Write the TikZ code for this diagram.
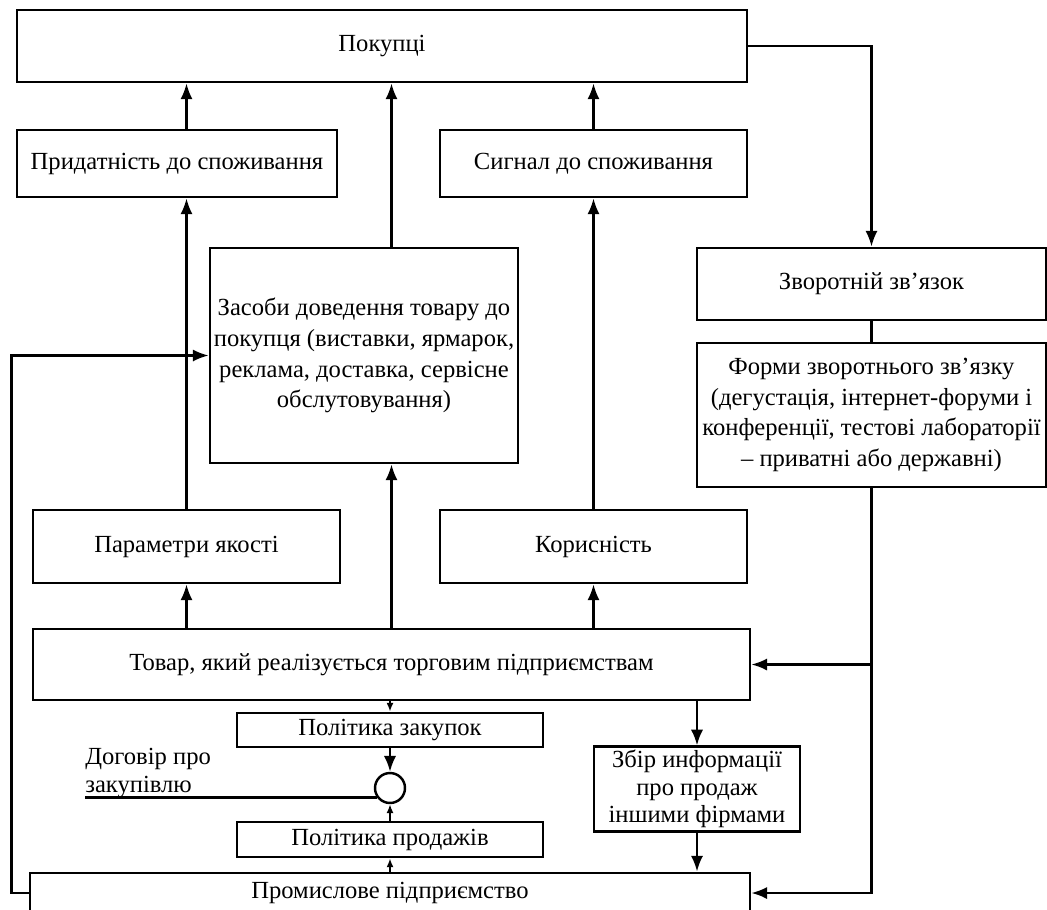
\documentclass[tikz,border=0pt]{standalone}
\usepackage{fontspec}
\setmainfont{Liberation Serif}
\usepackage{tikz}
\usetikzlibrary{arrows.meta}
\usetikzlibrary{positioning}
\tikzset{
	box/.style={draw=black, line width=1.6pt, align=center, inner sep=2pt,
		font=\fontsize{14}{17.5}\selectfont},
	link/.style={draw=black, line width=1.4pt, -{Latex[length=9pt,width=7pt]}},
	smalllink/.style={draw=black, line width=1.1pt, -{Latex[length=5pt,width=4pt]}},
	plain/.style={draw=black, line width=1.4pt},
}

\begin{document}
\begin{tikzpicture}[x=0.02cm, y=-0.02cm]
	\useasboundingbox (0,0) rectangle (1047,909);
	% top row
	\node[box, minimum width=14.6cm, minimum height=1.44cm] (pok) at (382,46) {Покупці};
	\node[box, minimum width=6.4cm, minimum height=1.34cm] (prid) at (177,163.5) {Придатність до споживання};
	\node[box, minimum width=6.14cm, minimum height=1.34cm] (sig) at (593.5,163.5) {Сигнал до споживання};
	\node[box, minimum width=6.16cm, minimum height=4.3cm] (zas) at (364,355.5)
		{Засоби доведення товару до\\покупця (виставки, ярмарок,\\реклама, доставка, сервісне\\обслутовування)};
	% feedback column
	\node[box, minimum width=6.98cm, minimum height=1.44cm] (zvor) at (871.5,284) {Зворотній зв’язок};
	\node[box, minimum width=6.98cm, minimum height=2.88cm, inner sep=1pt] (form) at (871.5,415)
		{Форми зворотнього зв’язку\\(дегустація, інтернет-форуми і\\конференції, тестові лабораторії\\– приватні або державні)};
	% middle row
	\node[box, minimum width=6.14cm, minimum height=1.46cm] (par) at (186.5,546.5) {Параметри якості};
	\node[box, minimum width=6.14cm, minimum height=1.46cm] (kor) at (593.5,546.5) {Корисність};
	\node[box, minimum width=14.34cm, minimum height=1.42cm] (tov) at (391.5,664.5) {Товар, який реалізується торговим підприємствам};
	% bottom
	\node[box, minimum width=6.12cm, minimum height=0.68cm] (zak) at (390,730) {Політика закупок};
	\node[draw=black, line width=1.4pt, circle, minimum size=0.6cm, inner sep=0pt] (circ) at (390,788) {};
	\node[box, minimum width=6.12cm, minimum height=0.7cm] (prod) at (390,839.5) {Політика продажів};
	\node[box, minimum width=14.4cm, minimum height=0.8cm] (prom) at (390,893) {Промислове підприємство};
	\node[box, minimum width=4.12cm, minimum height=1.64cm, font=\fontsize{14}{15.5}\selectfont] (zbir) at (697,789)
		{Збір информації\\про продаж\\іншими фірмами};
	\node[align=left, inner sep=0pt, anchor=north west, font=\fontsize{14}{16}\selectfont] (dog) at (85,748)
		{Договір про\\закупівлю};

	% upward arrows
	\draw[link] (par.north) -- (par.north |- prid.south);
	\draw[link] (par.north |- prid.north) -- (par.north |- pok.south);
	\draw[link] (kor.north) -- (kor.north |- sig.south);
	\draw[link] (kor.north |- sig.north) -- (kor.north |- pok.south);
	\draw[link] (tov.north) -- (tov.north |- zas.south);
	\draw[link] (tov.north |- zas.north) -- (tov.north |- pok.south);
	\draw[link] (tov.north -| par.north) -- (par.south);
	\draw[link] (tov.north -| kor.north) -- (kor.south);

	% purchase / sales policy
	\draw[smalllink] (tov.south -| zak.north) -- (zak.north);
	\draw[link] (zak.south) -- (circ.north);
	\draw[smalllink] (prod.north) -- (circ.south);
	\draw[smalllink] (prom.north -| prod.south) -- (prod.south);
	\draw[plain] (circ.215) -- (circ.215 -| dog.west);

	% information on sales
	\draw[link] (tov.south -| zbir.north) -- (zbir.north);
	\draw[link] (zbir.south) -- (zbir.south |- prom.north);

	% feedback loop
	\draw[link] (pok.east) -| (zvor.north);
	\draw[plain] (zvor.south) -- (form.north);
	\draw[link] (form.south) |- (prom.east);
	\draw[link] (form.south |- tov.east) -- (tov.east);
	\draw[link] (prom.west) -- ++(-17,0) |- (zas.west);
\end{tikzpicture}
\end{document}
